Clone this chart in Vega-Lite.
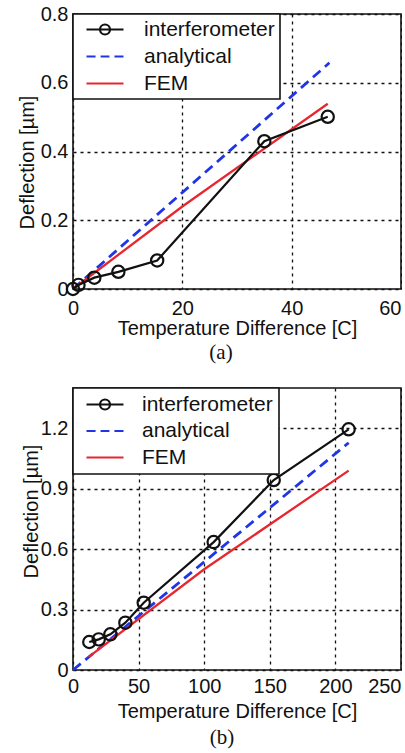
{
  "$schema": "https://vega.github.io/schema/vega-lite/v6.json",
  "background": "white",
  "padding": {"left": 16, "top": 3, "right": 0, "bottom": 0},
  "bounds": "flush",
  "spacing": 99,
  "config": {
    "font": "Liberation Sans",
    "view": {"stroke": "#111111", "strokeWidth": 1.6},
    "axis": {
      "domain": false, "ticks": false, "grid": true,
      "gridColor": "#111111", "gridDash": [3, 4], "gridWidth": 1.3, "gridOpacity": 1,
      "labelFont": "Liberation Sans", "labelFontSize": 20, "labelColor": "#111111",
      "titleFont": "Liberation Sans", "titleFontSize": 20, "titleFontWeight": "normal", "titleColor": "#111111",
      "labelFlush": false, "labelOverlap": false
    },
    "axisY": {"labelPadding": 5},
    "legend": {"strokeWidth": 1.6}
  },
  "datasets": {
    "a": [
      {"series": "interferometer", "t": 0, "d": 0},
      {"series": "interferometer", "t": 1, "d": 0.012},
      {"series": "interferometer", "t": 3.9, "d": 0.033},
      {"series": "interferometer", "t": 8.3, "d": 0.05},
      {"series": "interferometer", "t": 15.4, "d": 0.083},
      {"series": "interferometer", "t": 35, "d": 0.43},
      {"series": "interferometer", "t": 46.6, "d": 0.501},
      {"series": "analytical", "t": 0, "d": 0},
      {"series": "analytical", "t": 46.9, "d": 0.658},
      {"series": "FEM", "t": 0, "d": 0},
      {"series": "FEM", "t": 20, "d": 0.24},
      {"series": "FEM", "t": 46.6, "d": 0.539}
    ],
    "b": [
      {"series": "interferometer", "t": 12.4, "d": 0.139},
      {"series": "interferometer", "t": 19.6, "d": 0.152},
      {"series": "interferometer", "t": 28.5, "d": 0.177},
      {"series": "interferometer", "t": 39.9, "d": 0.235},
      {"series": "interferometer", "t": 53.9, "d": 0.334},
      {"series": "interferometer", "t": 107.2, "d": 0.635},
      {"series": "interferometer", "t": 153, "d": 0.943},
      {"series": "interferometer", "t": 210.1, "d": 1.195},
      {"series": "analytical", "t": 0, "d": 0},
      {"series": "analytical", "t": 210.1, "d": 1.128},
      {"series": "FEM", "t": 12, "d": 0.065},
      {"series": "FEM", "t": 100, "d": 0.5},
      {"series": "FEM", "t": 210.1, "d": 0.99}
    ]
  },
  "resolve": {"scale": {"color": "independent", "x": "independent", "y": "independent"}, "legend": {"color": "independent"}},
  "vconcat": [
    {
      "width": 328,
      "height": 275,
      "title": {"text": "(a)", "orient": "bottom", "anchor": "middle", "frame": "group", "font": "Liberation Serif", "fontSize": 21, "fontWeight": "normal", "color": "#111111", "offset": 4, "dx": -16},
      "data": {"name": "a"},
      "encoding": {
        "x": {"field": "t", "type": "quantitative", "scale": {"domain": [0, 60], "nice": false, "zero": false},
          "axis": {"values": [0, 20, 40, 60], "title": "Temperature Difference [C]", "labelPadding": 9, "titlePadding": 0,
            "labelAlign": {"condition": {"test": "datum.value >= 60", "value": "right"}, "value": "center"}}},
        "y": {"field": "d", "type": "quantitative", "scale": {"domain": [0, 0.8], "nice": false},
          "axis": {"values": [0, 0.2, 0.4, 0.6, 0.8], "format": ".1~f", "title": "Deflection [µm]", "titleX": -36, "titleY": 148}},
        "color": {"field": "series", "type": "nominal",
          "scale": {"domain": ["interferometer", "analytical", "FEM"], "range": ["#111111", "#1f35e6", "#e8262e"]},
          "legend": {
            "orient": "top-left", "offset": 0, "title": null, "fillColor": "#ffffff", "strokeColor": "#111111",
            "padding": 5, "labelFontSize": 21, "labelFont": "Liberation Sans", "labelColor": "#111111",
            "symbolSize": 1369, "symbolStrokeWidth": 2.2, "symbolOffset": 7, "labelOffset": 19,
            "clipHeight": 21, "rowPadding": 5, "labelLimit": 400,
            "encode": {"symbols": {"update": {
              "shape": {"signal": "datum.value === 'interferometer' ? 'M-1,0H1M-0.27,0A0.27,0.27,0,1,0,0.27,0A0.27,0.27,0,1,0,-0.27,0' : datum.value === 'analytical' ? 'M-1,0H-0.51M-0.24,0H0.24M0.51,0H1' : 'M-1,0H1'"},
              "stroke": {"signal": "datum.value === 'interferometer' ? '#111111' : datum.value === 'analytical' ? '#1f35e6' : '#e8262e'"},
              "fill": {"value": "transparent"},
              "opacity": {"value": 1},
              "strokeWidth": {"value": 2.2}
            }}}
          }}
      },
      "layer": [
        {"transform": [{"filter": "datum.series === 'analytical'"}], "mark": {"type": "line", "strokeDash": [10, 6], "strokeWidth": 2.8}},
        {"transform": [{"filter": "datum.series === 'FEM'"}], "mark": {"type": "line", "strokeWidth": 2.3}},
        {"transform": [{"filter": "datum.series === 'interferometer'"}], "mark": {"type": "line", "strokeWidth": 2.2}},
        {"transform": [{"filter": "datum.series === 'interferometer'"}], "mark": {"type": "point", "filled": false, "size": 150, "strokeWidth": 2.2, "opacity": 1}}
      ]
    },
    {
      "width": 328,
      "height": 282,
      "title": {"text": "(b)", "orient": "bottom", "anchor": "middle", "frame": "group", "font": "Liberation Serif", "fontSize": 21, "fontWeight": "normal", "color": "#111111", "offset": 6, "dx": -15},
      "data": {"name": "b"},
      "encoding": {
        "x": {"field": "t", "type": "quantitative", "scale": {"domain": [0, 250], "nice": false, "zero": false},
          "axis": {"values": [0, 50, 100, 150, 200, 250], "title": "Temperature Difference [C]", "labelPadding": 6, "titlePadding": 5,
            "labelAlign": {"condition": {"test": "datum.value >= 250", "value": "right"}, "value": "center"}}},
        "y": {"field": "d", "type": "quantitative", "scale": {"domain": [0, 1.4], "nice": false},
          "axis": {"values": [0, 0.3, 0.6, 0.9, 1.2], "format": ".1~f", "title": "Deflection [µm]", "titleX": -32, "titleY": 123}},
        "color": {"field": "series", "type": "nominal",
          "scale": {"domain": ["interferometer", "analytical", "FEM"], "range": ["#111111", "#1f35e6", "#e8262e"]},
          "legend": {
            "orient": "top-left", "offset": 0, "title": null, "fillColor": "#ffffff", "strokeColor": "#111111",
            "padding": 6, "labelFontSize": 21, "labelFont": "Liberation Sans", "labelColor": "#111111",
            "symbolSize": 1369, "symbolStrokeWidth": 2.2, "symbolOffset": 6, "labelOffset": 17,
            "clipHeight": 21, "rowPadding": 4.5, "labelLimit": 400,
            "encode": {"symbols": {"update": {
              "shape": {"signal": "datum.value === 'interferometer' ? 'M-1,0H1M-0.27,0A0.27,0.27,0,1,0,0.27,0A0.27,0.27,0,1,0,-0.27,0' : datum.value === 'analytical' ? 'M-1,0H-0.51M-0.24,0H0.24M0.51,0H1' : 'M-1,0H1'"},
              "stroke": {"signal": "datum.value === 'interferometer' ? '#111111' : datum.value === 'analytical' ? '#1f35e6' : '#e8262e'"},
              "fill": {"value": "transparent"},
              "opacity": {"value": 1},
              "strokeWidth": {"value": 2.2}
            }}}
          }}
      },
      "layer": [
        {"transform": [{"filter": "datum.series === 'analytical'"}], "mark": {"type": "line", "strokeDash": [10, 6], "strokeWidth": 2.8}},
        {"transform": [{"filter": "datum.series === 'FEM'"}], "mark": {"type": "line", "strokeWidth": 2.3}},
        {"transform": [{"filter": "datum.series === 'interferometer'"}], "mark": {"type": "line", "strokeWidth": 2.2}},
        {"transform": [{"filter": "datum.series === 'interferometer'"}], "mark": {"type": "point", "filled": false, "size": 150, "strokeWidth": 2.2, "opacity": 1}}
      ]
    }
  ]
}
